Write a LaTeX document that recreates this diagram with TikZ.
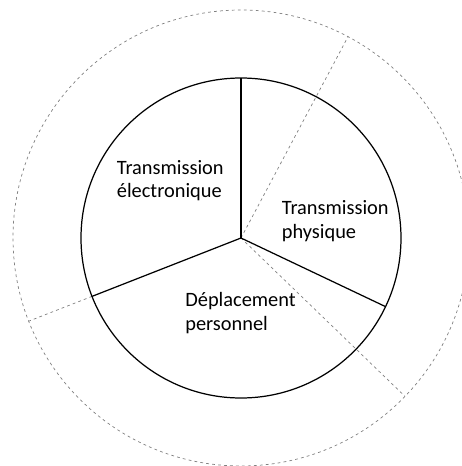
\documentclass[tikz,border=0pt]{standalone}
\usepackage{fontspec}
\setmainfont{Carlito}
\usepackage{tikz}
\tikzset{rim/.style={draw, gray, line width=0.4pt, dash pattern=on 1.6pt off 1.8pt},
  spoke/.style={draw, black, line width=0.7pt},
  sector/.style={anchor=base west, align=left, inner sep=0pt, font=\fontsize{11.6}{13.1}\selectfont}}

\begin{document}
\begin{tikzpicture}[scale=1]
    \useasboundingbox (-4.82, -4.56) rectangle (4.42, 4.76);
    \coordinate (c) at (0, 0);

    % cercle extérieur et séparations
    \draw[rim] (c) circle (4.56);
    \draw[rim] (c) -- (62:4.56);
    \draw[rim] (c) -- (-44:4.56);
    \draw[rim] (201.4:3.2) -- (201.4:4.56);

    % cercle intérieur
    \draw[spoke] (c) circle (3.2);
    \draw[spoke] (c) -- (90:3.2);
    \draw[spoke] (c) -- (-25.4:3.2);
    \draw[spoke] (c) -- (201.4:3.2);

    \node[sector] at (-2.49, 0.80) (elec) {Transmission\\électronique};
    \node[sector] at (0.81, 0.0) (phys) {Transmission\\physique};
    \node[sector] at (-1.12, -1.84) (depl) {Déplacement\\personnel};
\end{tikzpicture}
\end{document}
